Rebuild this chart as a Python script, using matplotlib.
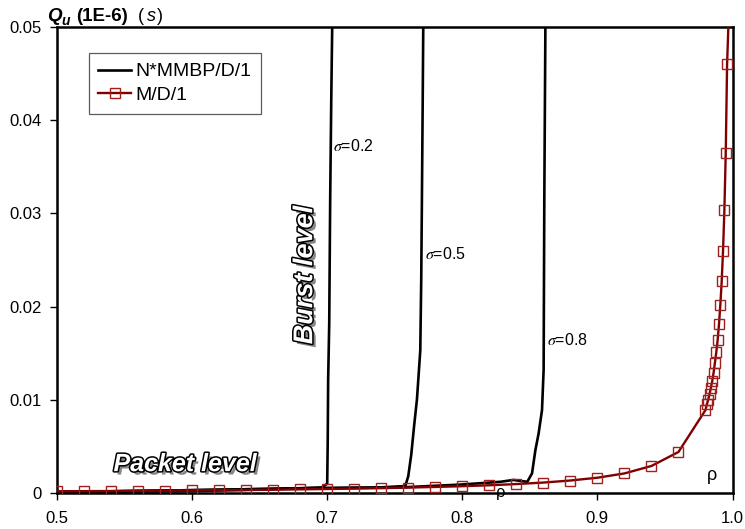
import matplotlib
matplotlib.use("Agg")
import matplotlib.pyplot as plt
import matplotlib.patheffects as pe
from matplotlib.ticker import FuncFormatter

# M/D/1 (markers), rho -> Q
md1_rho = [0.50, 0.52, 0.54, 0.56, 0.58, 0.60, 0.62, 0.64, 0.66, 0.68, 0.70, 0.72,
           0.74, 0.76, 0.78, 0.80, 0.82, 0.84, 0.86, 0.88, 0.90, 0.92, 0.94, 0.96,
           0.980, 0.981, 0.982, 0.983, 0.984, 0.985, 0.986, 0.987, 0.988, 0.989,
           0.990, 0.991, 0.992, 0.993, 0.994, 0.995, 0.996, 0.9970]
md1_q = [0.00018, 0.00020, 0.00021, 0.00023, 0.00025, 0.00027, 0.00030, 0.00032,
         0.00035, 0.00039, 0.00043, 0.00047, 0.00052, 0.00058, 0.00065, 0.00073,
         0.00083, 0.00096, 0.00112, 0.00134, 0.00164, 0.0021, 0.0029, 0.0044,
         0.0089, 0.0095, 0.0100, 0.0106, 0.0113, 0.0120, 0.0129, 0.0140, 0.0151,
         0.0164, 0.0181, 0.0202, 0.0227, 0.0260, 0.0304, 0.0365, 0.0460, 0.0503]

# N*MMBP/D/1 curves
s02_rho = [0.500, 0.5985, 0.658, 0.6963, 0.7000, 0.7004, 0.7007, 0.7015, 0.7022, 0.7030, 0.7037, 0.7040]
s02_q = [0.0001, 0.0002, 0.0004, 0.0006, 0.0010, 0.0057, 0.0121, 0.0182, 0.0314, 0.0422, 0.0500, 0.0506]

s05_rho = [0.500, 0.5985, 0.680, 0.7393, 0.7578, 0.7600, 0.7622, 0.7644, 0.7664, 0.7674,
           0.7689, 0.7696, 0.7701, 0.7707, 0.7711, 0.7712]
s05_q = [0.0001, 0.0003, 0.0005, 0.0006, 0.00075, 0.0018, 0.0041, 0.0073, 0.0100, 0.0121,
         0.0153, 0.0229, 0.0314, 0.0422, 0.0500, 0.0506]

s08_rho = [0.500, 0.5985, 0.680, 0.7541, 0.7985, 0.8281, 0.8378, 0.8481, 0.8516, 0.8541,
           0.8565, 0.8590, 0.8602, 0.8604, 0.8607, 0.8615, 0.8616]
s08_q = [0.0001, 0.0003, 0.0005, 0.0006, 0.0009, 0.0012, 0.0014, 0.0012, 0.0021, 0.0046,
         0.0064, 0.0089, 0.0132, 0.0207, 0.0314, 0.0500, 0.0506]

sigma_labels = ["0.2", "0.5", "0.8"]
sigma_pos = [(0.7045, 0.0372), (0.7724, 0.0256), (0.8625, 0.0164)]

x_ticks = [0.5, 0.6, 0.7, 0.8, 0.9, 1.0]
y_ticks = [0, 0.01, 0.02, 0.03, 0.04, 0.05]


def main():
	plt.rcParams['font.family'] = ['Liberation Sans', 'DejaVu Sans']
	plt.rcParams['mathtext.fontset'] = 'stix'
	W, H = 745, 529
	fig = plt.figure(figsize=(W / 100, H / 100), dpi=100, facecolor="white")
	ax = fig.add_axes([57 / W, 1 - 493 / H, (732.5 - 57) / W, (493 - 27) / H])

	ax.plot(s02_rho, s02_q, color="black", lw=1.9, label="N*MMBP/D/1", zorder=2)
	ax.plot(s05_rho, s05_q, color="black", lw=1.9, zorder=2)
	ax.plot(s08_rho, s08_q, color="black", lw=1.9, zorder=2)
	ax.plot(md1_rho, md1_q, color="#800000", lw=1.7, marker="s", markersize=6.5,
			markerfacecolor="none", markeredgecolor="#a02020", markeredgewidth=1.0,
			markevery=list(range(len(md1_rho) - 1)), label="M/D/1", zorder=3)

	ax.set_xlim(0.5, 1.0)
	ax.set_ylim(0, 0.05)
	ax.set_xticks(x_ticks)
	ax.set_yticks(y_ticks)
	ax.xaxis.set_major_formatter(FuncFormatter(lambda v, p: "%.1f" % v))
	ax.yaxis.set_major_formatter(FuncFormatter(lambda v, p: "0" if v == 0 else "%.2f" % v))
	ax.tick_params(axis="x", direction="out", length=5, width=1, pad=8, labelsize=12)
	ax.tick_params(axis="y", direction="out", length=5, width=1, pad=6, labelsize=12)
	for s in ax.spines.values():
		s.set_linewidth(1.8)

	for lab, (x, y) in zip(sigma_labels, sigma_pos):
		ax.text(x, y, r"$\sigma$=" + lab, fontsize=11.5, ha="left", va="center")

	ax.text(0.985, 0.0019, "ρ", fontsize=13, ha="center", va="center")
	ax.text(0.8285, 0.0001, "ρ", fontsize=12, ha="center", va="center", zorder=1)

	wordart = [pe.SimplePatchShadow(offset=(2.5, -2.5), shadow_rgbFace="#7a7a7a", alpha=0.9),
			   pe.withStroke(linewidth=2.2, foreground="black")]
	ax.text(0.5948, 0.0031, "Packet level", fontsize=18, fontweight="bold",
			fontstyle="italic", color="white", ha="center", va="center", path_effects=wordart)
	ax.text(0.6837, 0.0234, "Burst level", fontsize=19.5, fontweight="bold",
			fontstyle="italic", color="white", ha="center", va="center", rotation=90,
			path_effects=wordart)

	leg = ax.legend(loc="upper left", bbox_to_anchor=(0.047, 0.944), borderaxespad=0,
					fontsize=14, frameon=True, fancybox=False, handlelength=1.65,
					handletextpad=0.25, labelspacing=0.3, borderpad=0.5)
	leg.get_frame().set_edgecolor("#333333")
	leg.get_frame().set_linewidth(0.9)

	# y axis title
	fig.text(47 / W, 1 - 21 / H, "Q", fontsize=13.5, fontweight="bold", fontstyle="italic", va="baseline")
	fig.text(61 / W, 1 - 25 / H, "u", fontsize=10, fontweight="bold", fontstyle="italic", va="baseline")
	fig.text(76 / W, 1 - 21 / H, "(1E-6)", fontsize=13.5, fontweight="bold", va="baseline")
	fig.text(138 / W, 1 - 21 / H, "(", fontsize=13, va="baseline")
	fig.text(147 / W, 1 - 21 / H, "s", fontsize=13, fontstyle="italic", va="baseline")
	fig.text(157 / W, 1 - 21 / H, ")", fontsize=13, va="baseline")

	plt.savefig("out.png", dpi=100)


if __name__ == "__main__":
	main()
